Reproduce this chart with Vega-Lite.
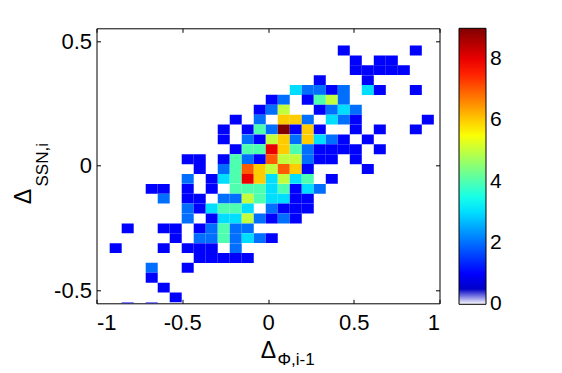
{
  "$schema": "https://vega.github.io/schema/vega-lite/v6.json",
  "width": 343,
  "height": 275,
  "autosize": "none",
  "padding": {"left": 96.5, "top": 28.3, "right": 122.5, "bottom": 69.7},
  "background": "white",
  "data": {"values": [
    {"x":0.404,"y":0.445,"count":1},{"x":0.824,"y":0.445,"count":1},
    {"x":0.474,"y":0.405,"count":1},{"x":0.614,"y":0.405,"count":1},{"x":0.684,"y":0.405,"count":1},
    {"x":0.474,"y":0.366,"count":1},{"x":0.544,"y":0.366,"count":1},{"x":0.614,"y":0.366,"count":1},{"x":0.684,"y":0.366,"count":1},{"x":0.754,"y":0.366,"count":1},
    {"x":0.264,"y":0.326,"count":1},{"x":0.544,"y":0.326,"count":1},
    {"x":0.124,"y":0.286,"count":3},{"x":0.194,"y":0.286,"count":2},{"x":0.264,"y":0.286,"count":2},{"x":0.334,"y":0.286,"count":1},{"x":0.404,"y":0.286,"count":2},{"x":0.544,"y":0.286,"count":3},{"x":0.614,"y":0.286,"count":1},{"x":0.824,"y":0.286,"count":1},
    {"x":-0.016,"y":0.247,"count":1},{"x":0.054,"y":0.247,"count":2},{"x":0.194,"y":0.247,"count":1},{"x":0.264,"y":0.247,"count":4},{"x":0.334,"y":0.247,"count":5},{"x":0.404,"y":0.247,"count":2},
    {"x":-0.086,"y":0.207,"count":1},{"x":-0.016,"y":0.207,"count":2},{"x":0.054,"y":0.207,"count":5},{"x":0.264,"y":0.207,"count":1},{"x":0.334,"y":0.207,"count":2},{"x":0.404,"y":0.207,"count":3},{"x":0.474,"y":0.207,"count":2},
    {"x":-0.226,"y":0.167,"count":1},{"x":-0.086,"y":0.167,"count":2},{"x":0.054,"y":0.167,"count":6},{"x":0.124,"y":0.167,"count":6},{"x":0.194,"y":0.167,"count":2},{"x":0.334,"y":0.167,"count":3},{"x":0.404,"y":0.167,"count":2},{"x":0.474,"y":0.167,"count":1},{"x":0.894,"y":0.167,"count":1},
    {"x":-0.296,"y":0.128,"count":1},{"x":-0.156,"y":0.128,"count":1},{"x":-0.086,"y":0.128,"count":4},{"x":-0.016,"y":0.128,"count":2},{"x":0.054,"y":0.128,"count":9},{"x":0.124,"y":0.128,"count":1},{"x":0.194,"y":0.128,"count":6},{"x":0.264,"y":0.128,"count":1},{"x":0.474,"y":0.128,"count":1},{"x":0.614,"y":0.128,"count":1},{"x":0.824,"y":0.128,"count":1},
    {"x":-0.296,"y":0.088,"count":1},{"x":-0.156,"y":0.088,"count":2},{"x":-0.086,"y":0.088,"count":1},{"x":-0.016,"y":0.088,"count":5},{"x":0.054,"y":0.088,"count":6},{"x":0.124,"y":0.088,"count":2},{"x":0.194,"y":0.088,"count":6},{"x":0.264,"y":0.088,"count":3},{"x":0.334,"y":0.088,"count":2},{"x":0.404,"y":0.088,"count":1},{"x":0.544,"y":0.088,"count":1},
    {"x":-0.226,"y":0.048,"count":1},{"x":-0.156,"y":0.048,"count":4},{"x":-0.086,"y":0.048,"count":4},{"x":-0.016,"y":0.048,"count":8},{"x":0.054,"y":0.048,"count":6},{"x":0.124,"y":0.048,"count":4},{"x":0.194,"y":0.048,"count":2},{"x":0.264,"y":0.048,"count":1},{"x":0.334,"y":0.048,"count":1},{"x":0.404,"y":0.048,"count":1},{"x":0.474,"y":0.048,"count":1},{"x":0.614,"y":0.048,"count":1},
    {"x":-0.506,"y":0.008,"count":1},{"x":-0.436,"y":0.008,"count":1},{"x":-0.296,"y":0.008,"count":1},{"x":-0.226,"y":0.008,"count":4},{"x":-0.156,"y":0.008,"count":2},{"x":-0.086,"y":0.008,"count":1},{"x":-0.016,"y":0.008,"count":7},{"x":0.054,"y":0.008,"count":5},{"x":0.124,"y":0.008,"count":5},{"x":0.194,"y":0.008,"count":2},{"x":0.264,"y":0.008,"count":1},{"x":0.334,"y":0.008,"count":1},{"x":0.474,"y":0.008,"count":1},
    {"x":-0.436,"y":-0.031,"count":1},{"x":-0.296,"y":-0.031,"count":2},{"x":-0.226,"y":-0.031,"count":4},{"x":-0.156,"y":-0.031,"count":7},{"x":-0.086,"y":-0.031,"count":6},{"x":-0.016,"y":-0.031,"count":5},{"x":0.054,"y":-0.031,"count":7},{"x":0.124,"y":-0.031,"count":6},{"x":0.194,"y":-0.031,"count":1},{"x":0.544,"y":-0.031,"count":1},
    {"x":-0.506,"y":-0.071,"count":2},{"x":-0.366,"y":-0.071,"count":1},{"x":-0.296,"y":-0.071,"count":3},{"x":-0.226,"y":-0.071,"count":4},{"x":-0.156,"y":-0.071,"count":8},{"x":-0.086,"y":-0.071,"count":6},{"x":-0.016,"y":-0.071,"count":3},{"x":0.054,"y":-0.071,"count":5},{"x":0.124,"y":-0.071,"count":3},{"x":0.194,"y":-0.071,"count":4},{"x":0.334,"y":-0.071,"count":1},
    {"x":-0.716,"y":-0.111,"count":1},{"x":-0.646,"y":-0.111,"count":1},{"x":-0.506,"y":-0.111,"count":1},{"x":-0.366,"y":-0.111,"count":1},{"x":-0.226,"y":-0.111,"count":4},{"x":-0.156,"y":-0.111,"count":4},{"x":-0.086,"y":-0.111,"count":4},{"x":-0.016,"y":-0.111,"count":3},{"x":0.054,"y":-0.111,"count":4},{"x":0.124,"y":-0.111,"count":1},{"x":0.194,"y":-0.111,"count":3},{"x":0.264,"y":-0.111,"count":2},
    {"x":-0.646,"y":-0.150,"count":2},{"x":-0.506,"y":-0.150,"count":1},{"x":-0.436,"y":-0.150,"count":1},{"x":-0.296,"y":-0.150,"count":2},{"x":-0.226,"y":-0.150,"count":2},{"x":-0.156,"y":-0.150,"count":5},{"x":-0.086,"y":-0.150,"count":4},{"x":-0.016,"y":-0.150,"count":3},{"x":0.054,"y":-0.150,"count":3},{"x":0.124,"y":-0.150,"count":1},{"x":0.194,"y":-0.150,"count":1},
    {"x":-0.506,"y":-0.190,"count":2},{"x":-0.436,"y":-0.190,"count":1},{"x":-0.366,"y":-0.190,"count":3},{"x":-0.296,"y":-0.190,"count":4},{"x":-0.226,"y":-0.190,"count":4},{"x":-0.156,"y":-0.190,"count":3},{"x":-0.016,"y":-0.190,"count":2},{"x":0.054,"y":-0.190,"count":1},{"x":0.124,"y":-0.190,"count":1},{"x":0.194,"y":-0.190,"count":1},
    {"x":-0.506,"y":-0.230,"count":2},{"x":-0.366,"y":-0.230,"count":1},{"x":-0.296,"y":-0.230,"count":3},{"x":-0.226,"y":-0.230,"count":3},{"x":-0.156,"y":-0.230,"count":5},{"x":-0.086,"y":-0.230,"count":2},{"x":-0.016,"y":-0.230,"count":1},{"x":0.054,"y":-0.230,"count":2},{"x":0.124,"y":-0.230,"count":1},
    {"x":-0.856,"y":-0.270,"count":1},{"x":-0.646,"y":-0.270,"count":1},{"x":-0.576,"y":-0.270,"count":1},{"x":-0.436,"y":-0.270,"count":1},{"x":-0.366,"y":-0.270,"count":2},{"x":-0.296,"y":-0.270,"count":4},{"x":-0.226,"y":-0.270,"count":2},{"x":-0.156,"y":-0.270,"count":2},
    {"x":-0.576,"y":-0.309,"count":1},{"x":-0.436,"y":-0.309,"count":2},{"x":-0.366,"y":-0.309,"count":2},{"x":-0.296,"y":-0.309,"count":4},{"x":-0.226,"y":-0.309,"count":2},{"x":-0.156,"y":-0.309,"count":3},{"x":-0.086,"y":-0.309,"count":2},{"x":-0.016,"y":-0.309,"count":1},
    {"x":-0.926,"y":-0.349,"count":1},{"x":-0.646,"y":-0.349,"count":1},{"x":-0.506,"y":-0.349,"count":1},{"x":-0.436,"y":-0.349,"count":1},{"x":-0.366,"y":-0.349,"count":1},{"x":-0.226,"y":-0.349,"count":2},
    {"x":-0.436,"y":-0.389,"count":1},{"x":-0.366,"y":-0.389,"count":1},{"x":-0.296,"y":-0.389,"count":1},{"x":-0.226,"y":-0.389,"count":1},{"x":-0.156,"y":-0.389,"count":1},
    {"x":-0.716,"y":-0.428,"count":2},{"x":-0.506,"y":-0.428,"count":1},
    {"x":-0.716,"y":-0.468,"count":1},
    {"x":-0.646,"y":-0.508,"count":1},
    {"x":-0.576,"y":-0.547,"count":1},
    {"x":-0.856,"y":-0.587,"count":1},{"x":-0.716,"y":-0.587,"count":1}
  ]},
  "layer": [
    {
      "mark": {"type": "rect", "clip": true},
      "encoding": {
        "x": {
          "field": "x", "type": "quantitative",
          "bin": {"binned": true, "step": 0.07},
          "scale": {"domain": [-1, 1], "nice": false, "zero": false},
          "axis": {
            "orient": "bottom",
            "values": [-1, -0.5, 0, 0.5, 1],
            "labelExpr": "'' + datum.value",
            "labelPadding": 13.5,
            "labelBaseline": "top",
            "title": "Δ",
            "titleFontSize": 23,
            "titleX": 171.5,
            "titleY": 54,
            "titleAlign": "center",
            "titleBaseline": "alphabetic",
            "titleAngle": 0
          }
        },
        "y": {
          "field": "y", "type": "quantitative",
          "bin": {"binned": true, "step": 0.0397},
          "scale": {"domain": [-0.553, 0.552], "nice": false, "zero": false},
          "axis": {
            "orient": "left",
            "values": [-0.5, 0, 0.5],
            "labelExpr": "'' + datum.value",
            "labelPadding": 9,
            "title": "Δ",
            "titleFontSize": 23,
            "titleAngle": 270,
            "titleX": -66.5,
            "titleY": 167.7,
            "titleAlign": "center",
            "titleBaseline": "alphabetic"
          }
        },
        "color": {
          "field": "count", "type": "quantitative",
          "scale": {
            "type": "linear",
            "domain": [0, 0.1406, 0.1407, 1, 3.3, 5.55, 7.8, 9],
            "range": ["#ffffff", "#ffffff", "#00009f", "#0000ff", "#00ffff", "#ffff00", "#ff0000", "#800000"],
            "interpolate": "rgb",
            "clamp": true,
            "zero": false,
            "nice": false
          },
          "legend": {
            "orient": "none",
            "legendX": 362.5,
            "legendY": 0,
            "direction": "vertical",
            "title": null,
            "values": [0, 2, 4, 6, 8],
            "gradientLength": 276,
            "gradientThickness": 27,
            "gradientStrokeColor": "black",
            "gradientStrokeWidth": 1,
            "labelFont": "Liberation Sans",
            "labelFontSize": 21,
            "labelColor": "black",
            "labelOffset": 4,
            "labelOverlap": false,
            "padding": 0,
            "encode": {
              "labels": {
                "update": {"baseline": {"value": "middle"}}
              }
            }
          }
        }
      }
    },
    {
      "mark": {"type": "point", "opacity": 0},
      "encoding": {
        "x": {
          "field": "x", "type": "quantitative",
          "scale": {"domain": [-1, 1], "nice": false, "zero": false},
          "axis": {
            "orient": "top",
            "values": [-1, -0.5, 0, 0.5, 1],
            "labels": false,
            "title": "Φ,i-1",
            "titleFontSize": 17,
            "titleX": 180.5,
            "titleY": 336,
            "titleAlign": "left",
            "titleBaseline": "alphabetic",
            "titleAngle": 0
          }
        },
        "y": {
          "field": "y", "type": "quantitative",
          "scale": {"domain": [-0.553, 0.552], "nice": false, "zero": false},
          "axis": {
            "orient": "right",
            "values": [-0.5, 0, 0.5],
            "labels": false,
            "title": "SSN,i",
            "titleFontSize": 17,
            "titleAngle": 270,
            "titleX": -392.5,
            "titleY": 157.7,
            "titleAlign": "left",
            "titleBaseline": "alphabetic"
          }
        }
      }
    }
  ],
  "resolve": {"axis": {"x": "independent", "y": "independent"}},
  "config": {
    "view": {"stroke": "black", "strokeWidth": 1},
    "axis": {
      "grid": false,
      "domain": false,
      "tickSize": -4,
      "tickColor": "black",
      "tickWidth": 1,
      "labelFont": "Liberation Sans",
      "labelFontSize": 22,
      "labelColor": "black",
      "titleFont": "Liberation Sans",
      "titleFontWeight": "normal",
      "titleColor": "black"
    }
  }
}
